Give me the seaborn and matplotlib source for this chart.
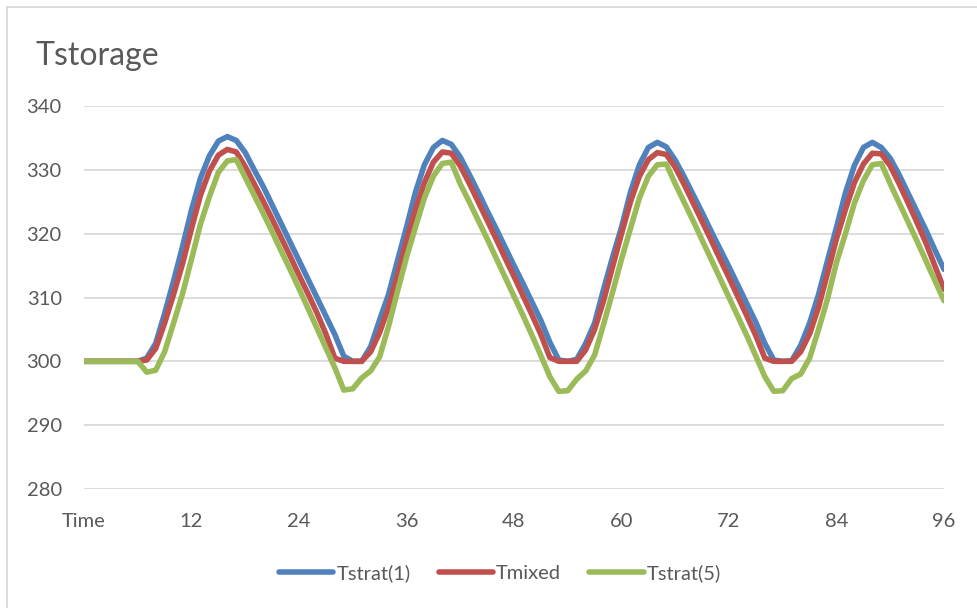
import numpy as np
import pandas as pd
import matplotlib
matplotlib.use("Agg")
import matplotlib.pyplot as plt
import seaborn as sns

# Storage temperature over 96 hours (hourly)
hours = list(range(97))

tstrat1 = [300, 300, 300, 300, 300, 300, 300, 300.5, 302.8, 307.5,
           312.6, 318.0, 323.7, 328.7, 332.2, 334.5, 335.2, 334.6, 332.7, 330.0,
           327.4, 324.5, 321.6, 318.7, 315.8, 312.9, 310.0, 307.1, 304.2, 300.8,
           300.0, 300.0, 302.3, 306.5, 310.5, 315.8, 321.0, 326.5, 330.8, 333.5,
           334.6, 334.0, 332.0, 329.3, 326.5, 323.6, 320.8, 317.9, 315.0, 312.2,
           309.3, 306.4, 303.0, 300.2, 300.0, 300.3, 302.8, 306.0, 311.3, 316.3,
           321.0, 326.5, 330.8, 333.5, 334.3, 333.6, 331.5, 328.9, 326.1, 323.3,
           320.4, 317.6, 314.8, 311.9, 309.0, 306.1, 302.8, 300.2, 300.0, 300.1,
           302.5, 306.0, 310.5, 315.8, 321.0, 326.4, 330.7, 333.5, 334.3, 333.5,
           331.8, 329.2, 326.3, 323.4, 320.5, 317.4, 314.4]

tmixed = [300, 300, 300, 300, 300, 300, 300, 300.2, 302.0, 306.0,
          310.5, 315.3, 320.8, 326.0, 329.8, 332.3, 333.2, 332.8, 330.5, 327.8,
          325.1, 322.3, 319.4, 316.5, 313.5, 310.6, 307.6, 304.3, 300.5, 300.0,
          300.0, 300.0, 301.5, 304.5, 308.5, 313.5, 318.9, 323.8, 328.0, 331.2,
          332.8, 332.6, 330.6, 327.9, 325.0, 322.1, 319.2, 316.2, 313.3, 310.3,
          307.3, 304.2, 300.6, 300.0, 300.0, 300.0, 301.8, 305.0, 309.5, 314.8,
          320.0, 325.0, 329.0, 331.6, 332.7, 332.4, 330.4, 327.7, 324.8, 321.9,
          319.0, 316.0, 313.1, 310.1, 307.1, 304.0, 300.5, 300.0, 300.0, 300.0,
          301.5, 304.3, 308.5, 313.8, 319.2, 323.8, 328.0, 330.9, 332.6, 332.5,
          330.6, 327.8, 324.8, 321.7, 318.5, 314.9, 311.3]

tstrat5 = [300, 300, 300, 300, 300, 300, 300, 298.3, 298.6, 301.5,
           306.0, 310.6, 316.0, 321.5, 325.8, 329.6, 331.4, 331.6, 328.8, 326.0,
           323.2, 320.3, 317.3, 314.4, 311.4, 308.3, 305.2, 302.1, 299.0, 295.5,
           295.7, 297.4, 298.5, 300.7, 305.5, 311.0, 316.3, 321.0, 325.6, 329.0,
           331.0, 331.2, 327.8, 325.0, 322.1, 319.2, 316.2, 313.2, 310.2, 307.2,
           304.1, 300.9, 297.6, 295.3, 295.4, 297.2, 298.5, 301.0, 305.8, 310.8,
           316.0, 320.8, 325.6, 329.0, 330.8, 330.9, 327.8, 324.9, 322.0, 319.0,
           316.0, 313.0, 310.0, 307.0, 304.0, 300.8, 297.6, 295.3, 295.4, 297.3,
           298.0, 300.5, 305.0, 309.8, 315.5, 320.0, 324.8, 328.3, 330.8, 331.0,
           327.8, 324.8, 321.8, 318.8, 315.7, 312.6, 309.5]

series_names = ["Tstrat(1)", "Tmixed", "Tstrat(5)"]
series_colors = ["#4F81BD", "#C0504D", "#9BBB59"]
x_ticks = [0, 12, 24, 36, 48, 60, 72, 84, 96]
x_tick_labels = ["Time", "12", "24", "36", "48", "60", "72", "84", "96"]
y_ticks = [280, 290, 300, 310, 320, 330, 340]

df = pd.concat([
    pd.DataFrame({"hour": hours, "T": vals, "series": name})
    for name, vals in zip(series_names, [tstrat1, tmixed, tstrat5])
])

sns.set_style("white")
plt.rcParams["font.family"] = ["Lato", "DejaVu Sans"]
text_color = "#595959"
grid_color = "#D9D9D9"

fig = plt.figure(figsize=(9.77, 6.08), dpi=100)
ax = fig.add_axes([84 / 977, 1 - 489 / 608, 860 / 977, 383 / 608])

sns.lineplot(data=df, x="hour", y="T", hue="series", hue_order=series_names,
             palette=series_colors, linewidth=4.0, ax=ax, legend=False,
             solid_capstyle="round", solid_joinstyle="round")

ax.set_xlim(0, 96)
ax.set_ylim(280, 340)
ax.set_xticks(x_ticks)
ax.set_xticklabels(x_tick_labels)
ax.set_yticks(y_ticks)
ax.set_xlabel("")
ax.set_ylabel("")
ax.grid(axis="y", color=grid_color, linewidth=1.3)
ax.set_axisbelow(True)
for s in ax.spines.values():
    s.set_visible(False)
ax.tick_params(axis="both", length=0, labelsize=14.5, colors=text_color)
ax.tick_params(axis="y", pad=16)
ax.tick_params(axis="x", pad=17)

fig.text(35 / 977, 1 - 65 / 608, "Tstorage", fontsize=23, color=text_color,
         va="baseline", ha="left")

handles = [plt.Line2D([], [], color=c, linewidth=4.0, solid_capstyle="round")
           for c in series_colors]
fig.legend(handles, series_names, loc="center", bbox_to_anchor=(500 / 977, 1 - 573 / 608),
           ncol=3, frameon=False, fontsize=14.5, labelcolor=text_color,
           handlelength=2.7, handletextpad=0.15, columnspacing=1.4)

# light chart-area border (top and left visible in the reference)
fig.add_artist(plt.Line2D([7 / 977, 1.0], [1 - 7 / 608, 1 - 7 / 608],
                          transform=fig.transFigure, color=grid_color, linewidth=1.3))
fig.add_artist(plt.Line2D([7 / 977, 7 / 977], [0.0, 1 - 7 / 608],
                          transform=fig.transFigure, color=grid_color, linewidth=1.3))

fig.savefig("out.png", dpi=100, facecolor="white")
